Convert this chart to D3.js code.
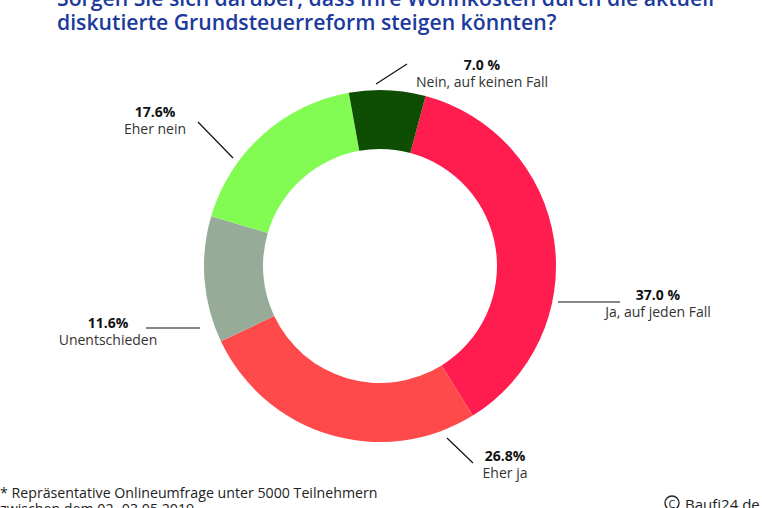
<html>
<head>
<meta charset="utf-8">
<style>
  body { margin: 0; background: #fff; }
  svg { display: block; }
  .title { fill: #1c3a9e; font-family: "Open Sans"; font-weight: 600; font-size: 21.2px; }
  .pct { fill: #111; font-family: "Open Sans"; font-weight: 700; font-size: 14px; }
  .lbl { fill: #333; font-family: "Open Sans"; font-size: 14px; }
  .note { fill: #222; font-family: "Open Sans"; font-size: 14.2px; }
  .leader { stroke: #111; stroke-width: 1.2; }
</style>
</head>
<body>
<svg width="762" height="508"></svg>
<script src="https://d3js.org/d3.v7.min.js"></script>
<script>
// data
var categories = ["Ja, auf jeden Fall", "Eher ja", "Unentschieden", "Eher nein", "Nein, auf keinen Fall"];
var values = [37.0, 26.8, 11.6, 17.6, 7.0];
var valueLabels = ["37.0 %", "26.8%", "11.6%", "17.6%", "7.0 %"];
var colors = ["#ff1d50", "#ff4a4b", "#97ac98", "#82fc53", "#0e4e02"];

var svg = d3.select("svg");
var cx = 380, cy = 266;
var outerR = 176, innerR = 117;
var start = 15 * Math.PI / 180;

// title (first line is cut off by the top edge in the original)
svg.append("text").attr("class", "title").attr("x", 57).attr("y", 6)
  .text("Sorgen Sie sich darüber, dass Ihre Wohnkosten durch die aktuell");
svg.append("text").attr("class", "title").attr("x", 57).attr("y", 30)
  .text("diskutierte Grundsteuerreform steigen könnten?");

var pie = d3.pie().sort(null).value(function(d) { return d; })
  .startAngle(start).endAngle(start + 2 * Math.PI);
var arc = d3.arc().innerRadius(innerR).outerRadius(outerR);

var g = svg.append("g").attr("transform", "translate(" + cx + "," + cy + ")");

g.selectAll("path")
  .data(pie(values))
  .enter()
  .append("path")
  .attr("d", arc)
  .attr("fill", function(d, i) { return colors[i]; });

// hand placed labels, offsets from the centre
var labelPos = [
  {x: 278, y: 34, line: [178, 36, 240, 36]},
  {x: 125, y: 195, line: [67, 172, 93, 197]},
  {x: -272, y: 62, line: [-234, 62, -180, 62]},
  {x: -225, y: -149, line: [-182, -144, -147, -108]},
  {x: 102, y: -196, line: [-4, -182, 27, -202]}
];

var lab = svg.append("g").attr("transform", "translate(" + cx + "," + cy + ")");
categories.forEach(function(c, i) {
  var p = labelPos[i];
  lab.append("line").attr("class", "leader")
    .attr("x1", p.line[0]).attr("y1", p.line[1])
    .attr("x2", p.line[2]).attr("y2", p.line[3]);
  lab.append("text").attr("class", "pct").attr("text-anchor", "middle")
    .attr("x", p.x).attr("y", p.y).text(valueLabels[i]);
  lab.append("text").attr("class", "lbl").attr("text-anchor", "middle")
    .attr("x", p.x).attr("y", p.y + 17).text(c);
});

// footnote (second line runs off the bottom edge like in the original)
svg.append("text").attr("class", "note").attr("x", 0).attr("y", 498)
  .text("* Repräsentative Onlineumfrage unter 5000 Teilnehmern");
svg.append("text").attr("class", "note").attr("x", 0).attr("y", 514)
  .text("zwischen dem 02.-03.05.2019");

// copyright
svg.append("circle").attr("cx", 672).attr("cy", 503).attr("r", 7)
  .attr("fill", "none").attr("stroke", "#222").attr("stroke-width", 1.3);
svg.append("text").attr("class", "note").attr("x", 672).attr("y", 507.5)
  .attr("text-anchor", "middle").style("font-size", "11px").text("C");
svg.append("text").attr("class", "note").attr("x", 685).attr("y", 510)
  .style("font-size", "15px").text("Baufi24.de");
</script>
</body>
</html>
